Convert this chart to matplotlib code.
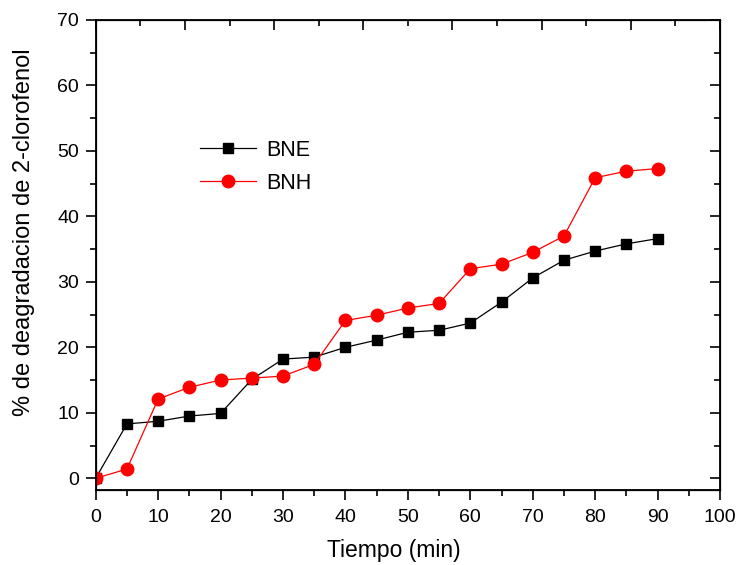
import matplotlib
matplotlib.use("Agg")
import matplotlib.pyplot as plt
from matplotlib.ticker import MultipleLocator, NullFormatter

plt.rcParams['font.family'] = ['Liberation Sans', 'DejaVu Sans']

tiempo = [0, 5, 10, 15, 20, 25, 30, 35, 40, 45, 50, 55, 60, 65, 70, 75, 80, 85, 90]
bne = [0.0, 8.3, 8.7, 9.5, 9.9, 15.1, 18.2, 18.5, 20.0, 21.1, 22.3, 22.6, 23.7,
       26.9, 30.6, 33.3, 34.7, 35.8, 36.6]
bnh = [0.0, 1.4, 12.1, 13.9, 15.0, 15.3, 15.6, 17.4, 24.1, 24.9, 26.0, 26.7, 32.0,
       32.7, 34.5, 37.0, 45.9, 46.9, 47.3]

fig = plt.figure(figsize=(7.38, 5.65), dpi=100)
ax = fig.add_axes([0.1297, 0.1327, 0.846, 0.832])

ax.plot(tiempo, bne, color='black', lw=0.9, marker='s', ms=7.5,
        mfc='black', mec='black', label='BNE', zorder=3)
ax.plot(tiempo, bnh, color='#ff0000', lw=0.9, marker='o', ms=9,
        mfc='#ff0000', mec='#ff0000', label='BNH', zorder=4)

ax.set_xlim(0, 100)
ax.set_ylim(-1.8, 70)
ax.xaxis.set_major_locator(MultipleLocator(10))
ax.xaxis.set_minor_locator(MultipleLocator(5))
ax.yaxis.set_major_locator(MultipleLocator(10))
ax.yaxis.set_minor_locator(MultipleLocator(5))
ax.tick_params(which='major', direction='out', length=7, width=1.2, labelsize=14)
ax.tick_params(axis='x', which='major', pad=7)
ax.tick_params(axis='y', which='major', pad=5)
ax.tick_params(which='minor', direction='out', length=4, width=1.2)
for s in ax.spines.values():
    s.set_linewidth(1.3)

# secondary top / right axes with inward ticks and no labels
top = ax.twiny()
top.set_xlim(0, 70)
top.xaxis.set_major_locator(MultipleLocator(10))
top.xaxis.set_minor_locator(MultipleLocator(5))
top.xaxis.set_major_formatter(NullFormatter())
top.tick_params(which='major', direction='in', length=7, width=1.2)
top.tick_params(which='minor', direction='in', length=4, width=1.2)

right = ax.twinx()
right.set_ylim(-1.8, 70)
right.yaxis.set_major_locator(MultipleLocator(10))
right.yaxis.set_minor_locator(MultipleLocator(5))
right.yaxis.set_major_formatter(NullFormatter())
right.tick_params(which='major', direction='in', length=7, width=1.2)
right.tick_params(which='minor', direction='in', length=4, width=1.2)

ax.set_xlabel('Tiempo (min)', fontsize=16.5)
ax.set_ylabel('% de deagradacion de 2-clorofenol', fontsize=17)
ax.xaxis.set_label_coords(0.478, -0.105)
ax.yaxis.set_label_coords(-0.097, 0.548)

ax.legend(loc='upper left', bbox_to_anchor=(0.15, 0.768), frameon=False,
          fontsize=15.5, handlelength=2.6, handletextpad=0.45, labelspacing=0.55,
          borderpad=0)

fig.savefig('out.png', dpi=100)
